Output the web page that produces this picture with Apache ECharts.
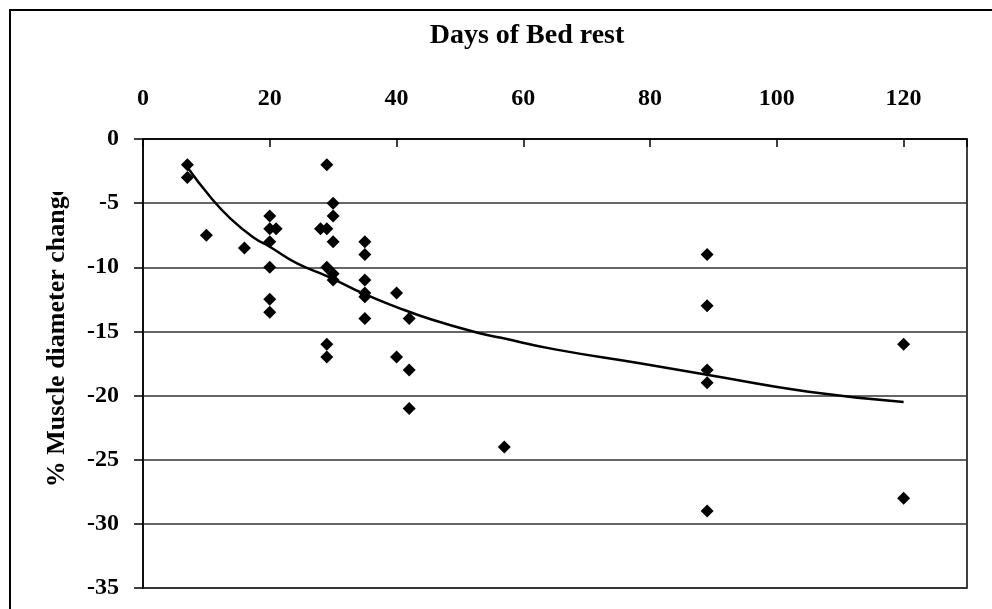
<!DOCTYPE html>
<html>
<head>
<meta charset="utf-8">
<script src="https://cdn.jsdelivr.net/npm/echarts@6/dist/echarts.min.js"></script>
<style>
	html, body { margin: 0; padding: 0; background: #fff; }
	#chart { width: 992px; height: 609px; }
</style>
</head>
<body>
<div id="chart"></div>
<script>
// measured points
var bedDays = [7, 7, 10, 16, 20, 20, 21, 20, 20, 20, 20,
	29, 30, 30, 28, 29, 30, 29, 30, 30, 29, 29,
	35, 35, 35, 35, 35, 35,
	40, 42, 40, 42, 42,
	57,
	89, 89, 89, 89, 89,
	120, 120];
var muscleChange = [-2, -3, -7.5, -8.5, -6, -7, -7, -8, -10, -12.5, -13.5,
	-2, -5, -6, -7, -7, -8, -10, -10.5, -11, -16, -17,
	-8, -9, -11, -12, -12.3, -14,
	-12, -14, -17, -18, -21,
	-24,
	-9, -13, -18, -19, -29,
	-16, -28];

// trend curve
var trendDays = [7, 10.6, 13.8, 17.5, 20, 24.3, 29.1, 35, 40, 45.4, 52.8, 56.5, 65, 78.6, 89.2, 105, 120];
var trendChange = [-2.2, -4.5, -6.2, -7.7, -8.4, -9.7, -10.7, -12.1, -13.1, -14.05, -15.1, -15.5, -16.4, -17.5, -18.4, -19.7, -20.5];

var xTicks = [0, 20, 40, 60, 80, 100, 120];
var yTicks = [0, -5, -10, -15, -20, -25, -30, -35];

var font = '"Liberation Serif", "Times New Roman", serif';
var myChart = echarts.init(document.getElementById('chart'));

var points = bedDays.map(function(d, i) { return [d, muscleChange[i]]; });
var trend = trendDays.map(function(d, i) { return [d, trendChange[i]]; });

var option = {
	animation: false,
	backgroundColor: '#fff',
	grid: {
		left: 143,
		top: 139,
		right: 25,
		bottom: 21,
		show: true,
		borderColor: '#000',
		borderWidth: 1.5
	},
	xAxis: {
		type: 'value',
		position: 'top',
		min: 0,
		max: 130,
		interval: 20,
		axisLine: { show: true, lineStyle: { color: '#000', width: 1.5 } },
		axisTick: { show: true, inside: true, length: 8, lineStyle: { color: '#000', width: 1.5 } },
		splitLine: { show: false },
		axisLabel: {
			margin: 28,
			color: '#000',
			fontFamily: font,
			fontWeight: 'bold',
			fontSize: 24,
			formatter: function(v) { return xTicks.indexOf(v) >= 0 ? String(v) : ''; }
		}
	},
	yAxis: {
		type: 'value',
		min: -35,
		max: 0,
		interval: 5,
		axisLine: { show: true, lineStyle: { color: '#000', width: 1.5 } },
		axisTick: { show: true, length: 9, lineStyle: { color: '#000', width: 1.5 } },
		splitLine: { show: true, lineStyle: { color: '#333', width: 1.5 } },
		axisLabel: {
			margin: 24,
			color: '#000',
			fontFamily: font,
			fontWeight: 'bold',
			fontSize: 24,
			formatter: function(v) { return yTicks.indexOf(v) >= 0 ? String(v) : ''; }
		}
	},
	graphic: [
		{
			type: 'rect',
			z: 100,
			shape: { x: 10, y: 10, width: 1000, height: 700 },
			style: { fill: 'none', stroke: '#000', lineWidth: 2 }
		},
		{
			type: 'text',
			z: 100,
			x: 527,
			y: 36,
			style: {
				text: 'Days of Bed rest',
				textAlign: 'center',
				textVerticalAlign: 'middle',
				font: 'bold 28px ' + font,
				fill: '#000'
			}
		},
		{
			type: 'text',
			z: 100,
			x: 57,
			y: 336,
			rotation: Math.PI / 2,
			style: {
				text: '% Muscle diameter change',
				textAlign: 'center',
				textVerticalAlign: 'middle',
				font: 'bold 26px ' + font,
				fill: '#000'
			}
		},
		{
			// the name is cut off at the top in the original
			type: 'rect',
			z: 101,
			shape: { x: 25, y: 130, width: 60, height: 62 },
			style: { fill: '#fff' }
		}
	],
	series: [
		{
			type: 'scatter',
			data: points,
			symbol: 'diamond',
			symbolSize: 13,
			itemStyle: { color: '#000', opacity: 1 },
			z: 3
		},
		{
			type: 'line',
			data: trend,
			smooth: true,
			showSymbol: false,
			lineStyle: { color: '#000', width: 2.5 },
			z: 2
		}
	]
};
myChart.setOption(option, true);
</script>
</body>
</html>
